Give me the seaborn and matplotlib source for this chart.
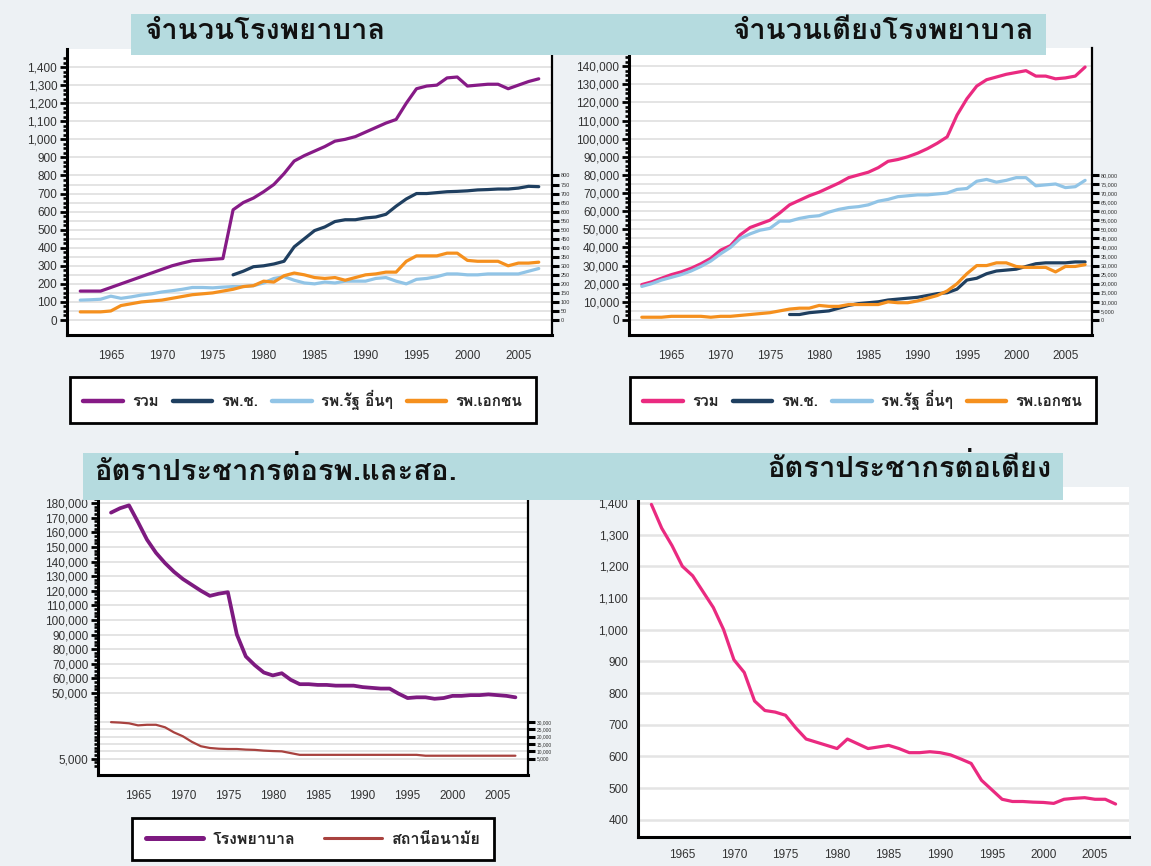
import numpy as np
import pandas as pd
import matplotlib
matplotlib.use("Agg")
import matplotlib.pyplot as plt
import seaborn as sns
import matplotlib.font_manager as fm
from matplotlib.patches import Rectangle
from matplotlib.lines import Line2D
from matplotlib.ticker import FuncFormatter, FixedLocator

# ---------------- data ----------------
years = list(range(1962, 2008))
years_chc = list(range(1977, 2008))

hosp_total = [160, 160, 160, 180, 200, 220, 240, 260, 280, 300,
              315, 328, 332, 336, 340, 610, 650, 675, 710, 750,
              810, 880, 910, 935, 960, 990, 1000, 1015, 1040, 1065,
              1090, 1110, 1200, 1280, 1295, 1300, 1340, 1345, 1295, 1300,
              1305, 1305, 1280, 1300, 1320, 1335]
hosp_chc = [250, 270, 295, 300, 310, 325, 405, 450, 495, 515,
            545, 555, 555, 565, 570, 585, 630, 670, 700, 700,
            705, 710, 712, 715, 720, 722, 725, 725, 730, 740, 738]
hosp_public = [110, 112, 115, 132, 120, 128, 138, 145, 155, 162,
               170, 180, 180, 178, 182, 185, 185, 190, 205, 230,
               240, 220, 205, 200, 210, 205, 215, 215, 215, 230,
               235, 215, 200, 225, 230, 240, 255, 255, 250, 250,
               255, 255, 255, 255, 270, 285]
hosp_private = [45, 45, 45, 50, 80, 90, 100, 105, 110, 120,
                130, 140, 145, 150, 160, 170, 185, 190, 215, 210,
                245, 260, 250, 235, 230, 235, 220, 235, 250, 255,
                265, 265, 325, 355, 355, 355, 370, 370, 330, 325,
                325, 325, 300, 315, 315, 320]

beds_total = [19500, 21000, 23000, 25000, 26500, 28500, 31000, 34000, 38500, 41000,
              47000, 51000, 53000, 55000, 59000, 63500, 66000, 68500, 70500, 73000,
              75500, 78500, 80000, 81500, 84000, 87500, 88500, 90000, 92000, 94500,
              97500, 101000, 113000, 122000, 129000, 132500, 134000, 135500, 136500, 137500,
              134500, 134500, 133000, 133500, 134500, 139500]
beds_chc = [3000, 3000, 4000, 4500, 5000, 6500, 8000, 9000, 9500, 10000,
            11000, 11500, 12000, 12500, 13500, 14500, 15000, 17000, 22000, 23000,
            25500, 27000, 27500, 28000, 29500, 31000, 31500, 31500, 31500, 32000, 32000]
beds_public = [18500, 20000, 22000, 23500, 25000, 27000, 29500, 32500, 36500, 40000,
               45000, 47500, 49500, 50500, 54500, 54500, 56000, 57000, 57500, 59500,
               61000, 62000, 62500, 63500, 65500, 66500, 68000, 68500, 69000, 69000,
               69500, 70000, 72000, 72500, 76500, 77500, 76000, 77000, 78500, 78500,
               74000, 74500, 75000, 73000, 73500, 77000]
beds_private = [1500, 1500, 1500, 2000, 2000, 2000, 2000, 1500, 2000, 2000,
                2500, 3000, 3500, 4000, 5000, 6000, 6500, 6500, 8000, 7500,
                7500, 8500, 8500, 8500, 8500, 10000, 9500, 9500, 10500, 12000,
                13500, 16000, 20000, 25500, 30000, 30000, 31500, 31500, 29500, 29000,
                29000, 29000, 26500, 29500, 29500, 30500]

pop_per_hosp = [173500, 176500, 178500, 167000, 155000, 146000, 139000, 133000, 128000, 124000,
                120000, 116500, 118000, 119000, 90000, 75000, 69000, 64000, 62000, 63500,
                59000, 56000, 56000, 55500, 55500, 55000, 55000, 55000, 54000, 53500,
                53000, 53000, 49500, 46500, 47000, 47000, 46000, 46500, 48000, 48000,
                48500, 48500, 49000, 48500, 48000, 47000]
pop_per_hc = [30000, 29700, 29200, 27800, 28200, 28200, 26500, 23000, 20300, 16500,
              13500, 12300, 11800, 11600, 11600, 11200, 11000, 10500, 10200, 10000,
              8800, 7600, 7600, 7600, 7600, 7600, 7600, 7600, 7600, 7600,
              7600, 7600, 7600, 7600, 7600, 7000, 7000, 7000, 7000, 7000,
              7000, 7000, 7000, 7000, 7000, 7000]
pop_per_bed = [1395, 1320, 1265, 1200, 1170, 1120, 1070, 1000, 905, 865,
               775, 745, 740, 730, 690, 655, 645, 635, 625, 655,
               640, 625, 630, 635, 625, 612, 612, 615, 612, 605,
               592, 578, 525, 495, 465, 458, 458, 456, 455, 452,
               465, 468, 470, 465, 465, 450]

titles = ["จำนวนโรงพยาบาล", "จำนวนเตียงโรงพยาบาล",
          "อัตราประชากรต่อรพ.และสอ.", "อัตราประชากรต่อเตียง"]
legend_top = ["รวม", "รพ.ช.", "รพ.รัฐ อื่นๆ", "รพ.เอกชน"]
legend_bottom = ["โรงพยาบาล", "สถานีอนามัย"]

# ---------------- fonts ----------------
sns.set_theme(style="white")


def find_thai_fonts():
    names = []
    try:
        from fontTools.ttLib import TTFont
    except Exception:
        return names
    for f in fm.fontManager.ttflist:
        if f.name in names:
            continue
        try:
            tt = TTFont(f.fname, fontNumber=0, lazy=True)
            cmap = tt.getBestCmap()
            if cmap and 0x0E08 in cmap and 0x0E1E in cmap and 0x0E48 in cmap:
                names.append(f.name)
        except Exception:
            pass
    return names


thai = find_thai_fonts()
family = thai[:1] + ["DejaVu Sans"]
plt.rcParams["font.family"] = family
NUMFONT = "Liberation Sans"

BG = "#edf1f4"
BAND = "#b5dbdf"
GRID = "#e4e4e4"
TXT = "#333333"

W, H = 1151, 866
fig = plt.figure(figsize=(W / 100, H / 100), dpi=100, facecolor=BG)


def rect(x0, y0, x1, y1):
    return [x0 / W, 1 - y1 / H, (x1 - x0) / W, (y1 - y0) / H]


def comma(v, pos=None):
    return f"{int(round(v)):,}"


def style_axis(ax, xlim, ylim, ymajor, yminor, right_spine=True):
    ax.set_facecolor("white")
    ax.set_xlim(*xlim)
    ax.set_ylim(*ylim)
    ax.xaxis.set_major_locator(FixedLocator(list(range(1965, 2006, 5))))
    ax.xaxis.set_minor_locator(FixedLocator(years))
    ax.yaxis.set_major_locator(FixedLocator(ymajor))
    ax.yaxis.set_minor_locator(FixedLocator(yminor))
    ax.yaxis.set_major_formatter(FuncFormatter(comma))
    ax.tick_params(axis="both", which="major", direction="out", length=5,
                   width=2.0, color="black", labelsize=8.5, labelcolor=TXT, pad=2)
    ax.tick_params(axis="both", which="minor", direction="out", length=3.2,
                   width=1.9, color="black")
    ax.tick_params(axis="x", which="major", length=6, pad=5)
    ax.grid(False)
    for s in ["left", "bottom"]:
        ax.spines[s].set_visible(True)
        ax.spines[s].set_linewidth(2.2)
        ax.spines[s].set_color("black")
    ax.spines["top"].set_visible(False)
    ax.spines["right"].set_visible(right_spine)
    if right_spine:
        ax.spines["right"].set_linewidth(1.6)
        ax.spines["right"].set_color("black")


def twin(ax, ticks, fmt_size=4):
    t = ax.twinx()
    t.set_ylim(ax.get_ylim())
    t.yaxis.set_major_locator(FixedLocator(ticks))
    t.yaxis.set_major_formatter(FuncFormatter(comma))
    t.tick_params(axis="y", which="major", direction="out", length=5, width=2.2,
                  color="black", labelsize=fmt_size, labelcolor=TXT, pad=1.5)
    for s in ["left", "top", "bottom", "right"]:
        t.spines[s].set_visible(False)
    t.grid(False)
    t.set_ylabel("")
    return t


LW = 2.3
c_purple = "#861a86"
c_navy = "#1f3f60"
c_lblue = "#91c4e6"
c_orange = "#f5901e"
c_pink = "#ea2a80"
c_brown = "#a8423f"
c_purple2 = "#7d1a80"

# ---------------- panel 1 ----------------
ax1 = fig.add_axes(rect(67, 49, 552, 335))
style_axis(ax1, (1960.7, 2008.3), (-83, 1500), list(range(0, 1401, 100)),
           list(range(0, 1451, 25)))
for v in list(range(0, 801, 50)) + list(range(900, 1401, 100)):
    ax1.axhline(v, color=GRID, lw=1.4, zorder=0.5)
t1 = twin(ax1, list(range(0, 801, 50)))
sns.lineplot(x=years, y=hosp_total, ax=ax1, color=c_purple, lw=LW, zorder=3)
sns.lineplot(x=years_chc, y=hosp_chc, ax=ax1, color=c_navy, lw=LW, zorder=3)
sns.lineplot(x=years, y=hosp_public, ax=ax1, color=c_lblue, lw=LW, zorder=3)
sns.lineplot(x=years, y=hosp_private, ax=ax1, color=c_orange, lw=LW, zorder=3)

# ---------------- panel 2 ----------------
ax2 = fig.add_axes(rect(629, 48, 1092, 335))
style_axis(ax2, (1960.7, 2007.7), (-8300, 150000), list(range(0, 140001, 10000)),
           list(range(0, 145001, 2500)))
for v in list(range(0, 80001, 5000)) + list(range(90000, 140001, 10000)):
    ax2.axhline(v, color=GRID, lw=1.4, zorder=0.5)
t2 = twin(ax2, list(range(0, 80001, 5000)))
sns.lineplot(x=years, y=beds_total, ax=ax2, color=c_pink, lw=LW, zorder=3)
sns.lineplot(x=years_chc, y=beds_chc, ax=ax2, color=c_navy, lw=LW, zorder=3)
sns.lineplot(x=years, y=beds_public, ax=ax2, color=c_lblue, lw=LW, zorder=3)
sns.lineplot(x=years, y=beds_private, ax=ax2, color=c_orange, lw=LW, zorder=3)

# ---------------- panel 3 ----------------
ax3 = fig.add_axes(rect(98, 490, 528, 775))
style_axis(ax3, (1960.55, 2008.4), (-6200, 189000),
           [5000] + list(range(50000, 180001, 10000)),
           list(range(0, 185001, 2500)))
for v in [5000] + list(range(10000, 30001, 5000)) + list(range(50000, 180001, 10000)):
    ax3.axhline(v, color=GRID, lw=1.4, zorder=0.5)
t3 = twin(ax3, list(range(5000, 30001, 5000)), fmt_size=3.5)
sns.lineplot(x=years, y=pop_per_hosp, ax=ax3, color=c_purple2, lw=LW + 0.4, zorder=3)
sns.lineplot(x=years, y=pop_per_hc, ax=ax3, color=c_brown, lw=1.6, zorder=3)

# ---------------- panel 4 ----------------
ax4 = fig.add_axes(rect(638, 487, 1129, 837))
style_axis(ax4, (1960.7, 2008.3), (346, 1450), list(range(400, 1401, 100)),
           list(range(350, 1451, 25)), right_spine=False)
for v in range(400, 1401, 100):
    ax4.axhline(v, color=GRID, lw=1.8, zorder=0.5)
sns.lineplot(x=years, y=pop_per_bed, ax=ax4, color=c_pink, lw=LW, zorder=3)
ax4.tick_params(axis="x", which="major", pad=3)

for a in (ax1, ax2, ax3, ax4, t1, t2, t3):
    a.set_xlabel("")
    a.set_ylabel("")
    for lab in a.get_xticklabels() + a.get_yticklabels():
        lab.set_fontfamily(NUMFONT)

# ---------------- title bands ----------------
fig.patches.append(Rectangle((131 / W, 1 - 55 / H), (1046 - 131) / W, 41 / H,
                             transform=fig.transFigure, facecolor=BAND, edgecolor="none", zorder=5))
fig.patches.append(Rectangle((83 / W, 1 - 500 / H), (1063 - 83) / W, 47 / H,
                             transform=fig.transFigure, facecolor=BAND, edgecolor="none", zorder=5))
tkw = dict(fontsize=21, color="#111111", zorder=6, va="center", fontweight="bold")
fig.text(144 / W, 1 - 31 / H, titles[0], ha="left", **tkw)
fig.text(1034 / W, 1 - 31 / H, titles[1], ha="right", **tkw)
fig.text(94 / W, 1 - 472 / H, titles[2], ha="left", **tkw)
fig.text(1052 / W, 1 - 468 / H, titles[3], ha="right", **tkw)


# ---------------- legends ----------------
def make_legend(colors, labels, cx, cy, ncol, lws=None, colsp=1.0, hl=2.6, size=11):
    lws = lws or [3.2] * len(colors)
    handles = [Line2D([0], [0], color=c, lw=w) for c, w in zip(colors, lws)]
    leg = fig.legend(handles, labels, loc="center", ncol=ncol,
                     bbox_to_anchor=(cx / W, 1 - cy / H),
                     bbox_transform=fig.transFigure, frameon=True, fancybox=False,
                     edgecolor="black", facecolor="white", framealpha=1,
                     handlelength=hl, borderpad=0.85, columnspacing=colsp,
                     handletextpad=0.6, prop={"weight": "bold", "size": size})
    leg.get_frame().set_linewidth(2.0)
    return leg


make_legend([c_purple, c_navy, c_lblue, c_orange], legend_top, 303, 400, 4, colsp=0.9)
make_legend([c_pink, c_navy, c_lblue, c_orange], legend_top, 863, 400, 4, colsp=0.9)
make_legend([c_purple2, c_brown], legend_bottom, 313, 839, 2, lws=[3.6, 2.2],
            colsp=1.8, hl=3.6, size=11.5)

fig.savefig("out.png", dpi=100, facecolor=BG)
